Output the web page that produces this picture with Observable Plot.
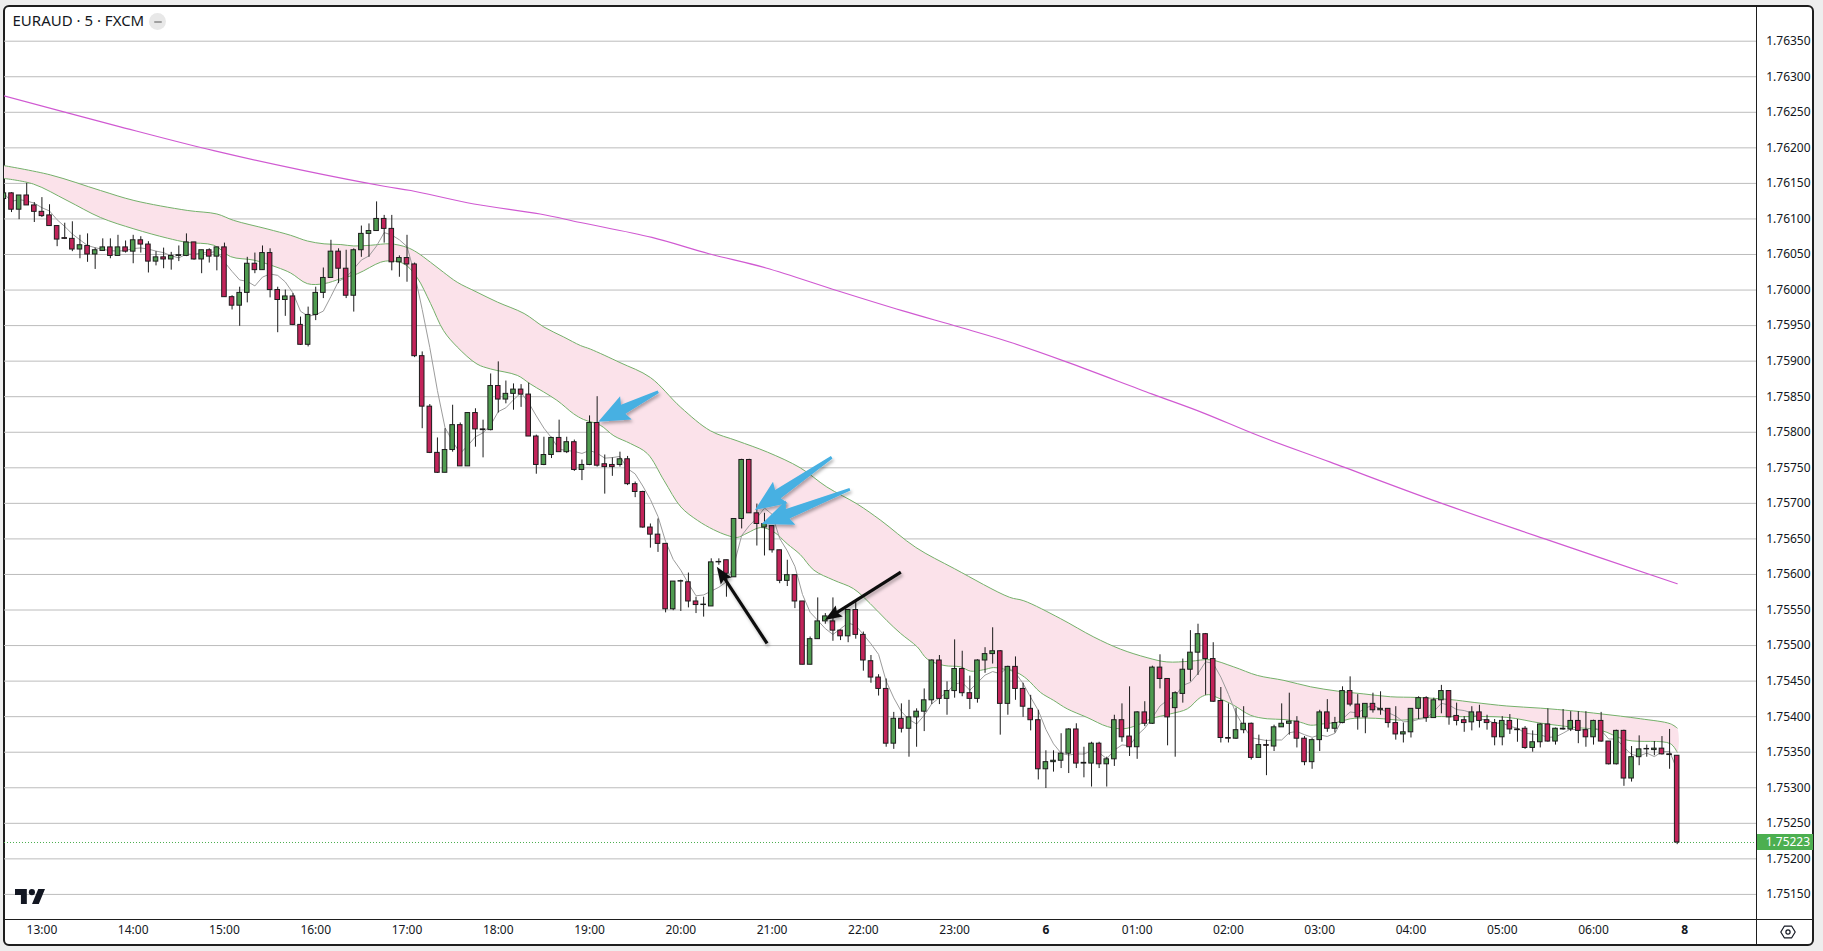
<!DOCTYPE html>
<html>
<head>
<meta charset="utf-8">
<script src="https://cdn.jsdelivr.net/npm/d3@7"></script>
<script src="https://cdn.jsdelivr.net/npm/@observablehq/plot@0.6"></script>
<style>
  html, body { margin: 0; padding: 0; width: 1823px; height: 951px; overflow: hidden; background: #eeeeee; }
  #frame { position: absolute; left: 3px; top: 5px; width: 1811px; height: 941px; box-sizing: border-box;
           border: 2px solid #1e1e1e; border-radius: 6px; background: #ffffff; }
  #chart { position: absolute; left: 0; top: 0; }
  .sep { position: absolute; background: #1e1e1e; }
  #title { position: absolute; left: 12.5px; top: 13.4px; font: 15px/15px "Noto Sans", "Open Sans", sans-serif; color: #131722; white-space: nowrap; }
  #minus { position: absolute; left: 149px; top: 13px; width: 17px; height: 17px; border-radius: 50%; background: #e8e8e8; }
  #minus::after { content: ""; position: absolute; left: 4.5px; top: 7.5px; width: 8px; height: 2px; background: #a0a0a0; border-radius: 1px; }
  #logo { position: absolute; left: 15px; top: 889px; }
  #gear { position: absolute; left: 1780px; top: 925px; }
  #lastLabel { position: absolute; left: 1757px; width: 56px; height: 16px; background: #4caf50; color: #ffffff;
               font: 12px/16px "Noto Sans", "Open Sans", sans-serif; box-sizing: border-box; padding-left: 8.7px; }
</style>
</head>
<body>
<div id="frame"></div>
<div id="chart"></div>
<div class="sep" style="left:1756.2px; top:5px; width:1px; height:941px;"></div>
<div class="sep" style="left:3px; top:918.8px; width:1811px; height:1px;"></div>
<div id="title">EURAUD · 5 · FXCM</div>
<div id="minus"></div>
<svg id="logo" width="30" height="15.4" viewBox="0 4 35.5 18"><path fill="#131722" d="M14 22H7V11H0V4h14v18zM28 22h-8l7.5-18h8L28 22z"/><circle fill="#131722" cx="20" cy="7.6" r="3.6"/></svg>
<svg id="gear" width="16" height="14" viewBox="0 0 16 14"><path d="M4.3 1.2h7.4L15.2 7l-3.5 5.8H4.3L0.8 7z" fill="none" stroke="#131722" stroke-width="1.2" stroke-linejoin="round"/><circle cx="8" cy="7" r="2.1" fill="none" stroke="#131722" stroke-width="1.2"/></svg>
<script>
// ---------------- data (EURAUD 5-minute candles) ----------------
// candle index -1 is the partly hidden bar at the left edge; index 4 = 13:00
const open = [
  1.76128, 1.76136, 1.76113, 1.76133, 1.76119, 1.76110, 1.76105, 1.76090, 1.76073, 1.76072,
  1.76057, 1.76062, 1.76050, 1.76055, 1.76060, 1.76048, 1.76060, 1.76054, 1.76070, 1.76064,
  1.76040, 1.76046, 1.76043, 1.76048, 1.76048, 1.76067, 1.76043, 1.76056, 1.76047, 1.76060,
  1.75990, 1.75978, 1.75996, 1.76037, 1.76028, 1.76052, 1.76000, 1.75986, 1.75991, 1.75951,
  1.75923, 1.75965, 1.75996, 1.76017, 1.76054, 1.76030, 1.75992, 1.76056, 1.76079, 1.76083,
  1.76100, 1.76086, 1.76039, 1.76045, 1.76036, 1.75907, 1.75836, 1.75771, 1.75743, 1.75775,
  1.75810, 1.75752, 1.75827, 1.75804, 1.75803, 1.75865, 1.75846, 1.75854, 1.75860, 1.75853,
  1.75794, 1.75754, 1.75768, 1.75792, 1.75772, 1.75786, 1.75747, 1.75754, 1.75813, 1.75755,
  1.75754, 1.75754, 1.75762, 1.75727, 1.75716, 1.75666, 1.75656, 1.75643, 1.75551, 1.75590,
  1.75589, 1.75562, 1.75557, 1.75555, 1.75617, 1.75620, 1.75596, 1.75678, 1.75761, 1.75686,
  1.75666, 1.75668, 1.75634, 1.75591, 1.75599, 1.75562, 1.75473, 1.75509, 1.75534, 1.75534,
  1.75521, 1.75513, 1.75550, 1.75515, 1.75478, 1.75455, 1.75439, 1.75362, 1.75397, 1.75383,
  1.75399, 1.75407, 1.75423, 1.75479, 1.75425, 1.75436, 1.75467, 1.75433, 1.75425, 1.75479,
  1.75488, 1.75492, 1.75418, 1.75470, 1.75439, 1.75411, 1.75395, 1.75326, 1.75336, 1.75338,
  1.75348, 1.75382, 1.75334, 1.75334, 1.75362, 1.75333, 1.75340, 1.75395, 1.75372, 1.75357,
  1.75406, 1.75390, 1.75469, 1.75453, 1.75412, 1.75432, 1.75466, 1.75490, 1.75516, 1.75481,
  1.75422, 1.75370, 1.75369, 1.75381, 1.75390, 1.75342, 1.75360, 1.75358, 1.75385, 1.75390,
  1.75393, 1.75369, 1.75336, 1.75367, 1.75406, 1.75383, 1.75391, 1.75436, 1.75417, 1.75399,
  1.75418, 1.75409, 1.75411, 1.75391, 1.75375, 1.75378, 1.75411, 1.75426, 1.75398, 1.75423,
  1.75436, 1.75401, 1.75395, 1.75392, 1.75406, 1.75395, 1.75391, 1.75371, 1.75394, 1.75382,
  1.75383, 1.75356, 1.75364, 1.75389, 1.75365, 1.75382, 1.75382, 1.75394, 1.75381, 1.75371,
  1.75394, 1.75365, 1.75333, 1.75380, 1.75313, 1.75343, 1.75354, 1.75353, 1.75355, 1.75347,
  1.75345
];
const high = [
  1.76140, 1.76137, 1.76133, 1.76150, 1.76123, 1.76130, 1.76120, 1.76090, 1.76094, 1.76096,
  1.76077, 1.76079, 1.76059, 1.76072, 1.76072, 1.76077, 1.76069, 1.76077, 1.76075, 1.76068,
  1.76054, 1.76059, 1.76053, 1.76062, 1.76079, 1.76067, 1.76056, 1.76058, 1.76060, 1.76066,
  1.75992, 1.76004, 1.76046, 1.76052, 1.76062, 1.76058, 1.76004, 1.76000, 1.75995, 1.75962,
  1.75976, 1.76004, 1.76031, 1.76070, 1.76058, 1.76056, 1.76058, 1.76090, 1.76093, 1.76124,
  1.76105, 1.76105, 1.76048, 1.76077, 1.76038, 1.75913, 1.75839, 1.75792, 1.75805, 1.75838,
  1.75813, 1.75827, 1.75833, 1.75817, 1.75882, 1.75899, 1.75872, 1.75868, 1.75867, 1.75869,
  1.75796, 1.75793, 1.75793, 1.75817, 1.75793, 1.75789, 1.75761, 1.75823, 1.75850, 1.75768,
  1.75764, 1.75772, 1.75766, 1.75730, 1.75717, 1.75671, 1.75678, 1.75643, 1.75590, 1.75592,
  1.75602, 1.75568, 1.75568, 1.75622, 1.75622, 1.75620, 1.75678, 1.75762, 1.75762, 1.75699,
  1.75686, 1.75668, 1.75634, 1.75620, 1.75599, 1.75562, 1.75512, 1.75567, 1.75545, 1.75567,
  1.75522, 1.75550, 1.75561, 1.75519, 1.75486, 1.75459, 1.75453, 1.75406, 1.75418, 1.75423,
  1.75411, 1.75439, 1.75480, 1.75486, 1.75449, 1.75508, 1.75492, 1.75457, 1.75480, 1.75497,
  1.75525, 1.75493, 1.75471, 1.75484, 1.75447, 1.75430, 1.75409, 1.75352, 1.75352, 1.75376,
  1.75383, 1.75390, 1.75357, 1.75364, 1.75364, 1.75343, 1.75402, 1.75418, 1.75442, 1.75407,
  1.75421, 1.75471, 1.75487, 1.75453, 1.75435, 1.75481, 1.75521, 1.75530, 1.75517, 1.75504,
  1.75441, 1.75418, 1.75412, 1.75414, 1.75391, 1.75374, 1.75367, 1.75388, 1.75418, 1.75433,
  1.75400, 1.75372, 1.75369, 1.75409, 1.75424, 1.75399, 1.75442, 1.75456, 1.75431, 1.75418,
  1.75433, 1.75435, 1.75411, 1.75414, 1.75391, 1.75411, 1.75428, 1.75428, 1.75426, 1.75444,
  1.75436, 1.75419, 1.75400, 1.75414, 1.75416, 1.75402, 1.75396, 1.75400, 1.75403, 1.75396,
  1.75386, 1.75380, 1.75390, 1.75411, 1.75384, 1.75410, 1.75407, 1.75407, 1.75407, 1.75395,
  1.75406, 1.75365, 1.75381, 1.75381, 1.75358, 1.75373, 1.75360, 1.75365, 1.75372, 1.75382,
  1.75345
];
const low = [
  1.76120, 1.76109, 1.76099, 1.76119, 1.76095, 1.76102, 1.76090, 1.76061, 1.76071, 1.76054,
  1.76044, 1.76039, 1.76029, 1.76055, 1.76044, 1.76048, 1.76052, 1.76037, 1.76052, 1.76024,
  1.76034, 1.76030, 1.76028, 1.76040, 1.76047, 1.76042, 1.76023, 1.76038, 1.76027, 1.75990,
  1.75972, 1.75949, 1.75982, 1.76023, 1.76028, 1.75989, 1.75940, 1.75963, 1.75950, 1.75922,
  1.75920, 1.75957, 1.75988, 1.76017, 1.76009, 1.75988, 1.75969, 1.76046, 1.76046, 1.76083,
  1.76066, 1.76027, 1.76018, 1.76011, 1.75905, 1.75805, 1.75770, 1.75742, 1.75743, 1.75772,
  1.75752, 1.75752, 1.75779, 1.75764, 1.75802, 1.75827, 1.75840, 1.75831, 1.75835, 1.75794,
  1.75741, 1.75753, 1.75763, 1.75772, 1.75770, 1.75745, 1.75732, 1.75753, 1.75751, 1.75713,
  1.75738, 1.75751, 1.75725, 1.75708, 1.75665, 1.75637, 1.75631, 1.75546, 1.75549, 1.75548,
  1.75553, 1.75545, 1.75540, 1.75555, 1.75613, 1.75568, 1.75596, 1.75664, 1.75686, 1.75640,
  1.75626, 1.75630, 1.75587, 1.75583, 1.75552, 1.75473, 1.75473, 1.75509, 1.75530, 1.75506,
  1.75507, 1.75504, 1.75509, 1.75464, 1.75447, 1.75429, 1.75357, 1.75354, 1.75377, 1.75343,
  1.75357, 1.75379, 1.75417, 1.75417, 1.75402, 1.75426, 1.75428, 1.75410, 1.75419, 1.75461,
  1.75474, 1.75374, 1.75402, 1.75423, 1.75399, 1.75380, 1.75311, 1.75299, 1.75322, 1.75327,
  1.75320, 1.75327, 1.75314, 1.75301, 1.75327, 1.75301, 1.75330, 1.75364, 1.75344, 1.75340,
  1.75386, 1.75389, 1.75439, 1.75359, 1.75343, 1.75419, 1.75449, 1.75458, 1.75430, 1.75420,
  1.75363, 1.75363, 1.75368, 1.75376, 1.75339, 1.75342, 1.75317, 1.75351, 1.75385, 1.75374,
  1.75356, 1.75331, 1.75326, 1.75351, 1.75378, 1.75377, 1.75390, 1.75414, 1.75381, 1.75376,
  1.75405, 1.75402, 1.75384, 1.75367, 1.75363, 1.75370, 1.75396, 1.75392, 1.75398, 1.75404,
  1.75388, 1.75387, 1.75378, 1.75380, 1.75384, 1.75381, 1.75359, 1.75359, 1.75375, 1.75364,
  1.75354, 1.75350, 1.75356, 1.75364, 1.75360, 1.75381, 1.75379, 1.75362, 1.75357, 1.75360,
  1.75364, 1.75332, 1.75332, 1.75302, 1.75308, 1.75331, 1.75343, 1.75345, 1.75346, 1.75326,
  1.75220
];
const close = [
  1.76136, 1.76113, 1.76133, 1.76119, 1.76110, 1.76104, 1.76090, 1.76071, 1.76072, 1.76057,
  1.76063, 1.76050, 1.76056, 1.76060, 1.76048, 1.76060, 1.76054, 1.76070, 1.76064, 1.76040,
  1.76046, 1.76043, 1.76048, 1.76049, 1.76067, 1.76043, 1.76056, 1.76047, 1.76060, 1.75990,
  1.75978, 1.75996, 1.76037, 1.76028, 1.76052, 1.76000, 1.75986, 1.75991, 1.75951, 1.75923,
  1.75965, 1.75996, 1.76017, 1.76054, 1.76030, 1.75992, 1.76056, 1.76079, 1.76083, 1.76100,
  1.76086, 1.76039, 1.76045, 1.76036, 1.75907, 1.75836, 1.75771, 1.75743, 1.75775, 1.75810,
  1.75752, 1.75827, 1.75804, 1.75803, 1.75865, 1.75846, 1.75854, 1.75860, 1.75853, 1.75794,
  1.75754, 1.75768, 1.75792, 1.75772, 1.75786, 1.75747, 1.75754, 1.75813, 1.75753, 1.75751,
  1.75751, 1.75762, 1.75727, 1.75716, 1.75666, 1.75656, 1.75643, 1.75551, 1.75590, 1.75590,
  1.75562, 1.75557, 1.75557, 1.75617, 1.75617, 1.75601, 1.75678, 1.75761, 1.75686, 1.75671,
  1.75671, 1.75634, 1.75591, 1.75599, 1.75562, 1.75473, 1.75509, 1.75534, 1.75541, 1.75521,
  1.75513, 1.75550, 1.75515, 1.75479, 1.75455, 1.75439, 1.75362, 1.75397, 1.75383, 1.75399,
  1.75407, 1.75423, 1.75479, 1.75425, 1.75436, 1.75467, 1.75433, 1.75425, 1.75479, 1.75488,
  1.75492, 1.75418, 1.75470, 1.75439, 1.75414, 1.75395, 1.75326, 1.75336, 1.75338, 1.75348,
  1.75382, 1.75334, 1.75335, 1.75362, 1.75333, 1.75340, 1.75395, 1.75371, 1.75357, 1.75406,
  1.75390, 1.75469, 1.75453, 1.75399, 1.75433, 1.75466, 1.75490, 1.75516, 1.75481, 1.75421,
  1.75370, 1.75369, 1.75381, 1.75390, 1.75342, 1.75360, 1.75359, 1.75385, 1.75390, 1.75393,
  1.75369, 1.75336, 1.75367, 1.75406, 1.75383, 1.75391, 1.75436, 1.75417, 1.75399, 1.75418,
  1.75409, 1.75411, 1.75391, 1.75375, 1.75378, 1.75411, 1.75426, 1.75398, 1.75423, 1.75436,
  1.75399, 1.75394, 1.75391, 1.75406, 1.75394, 1.75391, 1.75371, 1.75394, 1.75382, 1.75381,
  1.75356, 1.75364, 1.75389, 1.75365, 1.75383, 1.75383, 1.75394, 1.75380, 1.75371, 1.75394,
  1.75365, 1.75333, 1.75380, 1.75313, 1.75343, 1.75354, 1.75354, 1.75355, 1.75347, 1.75346,
  1.75223
];
const firstIndex = -1;

// upper and lower lines of the shaded moving-average band (bar index, price)
const bandUpperIdx = [-1, 5.1, 11.7, 16.1, 23.1, 27.0, 29.2, 33.6, 36.7, 38.9, 41.1, 43.3, 45.0, 47.2, 49.8, 52.0, 53.3, 55.1, 56.8, 58.6,
  61.2, 63.9, 67.4, 70.0, 72.6, 74.8, 76.1, 80.0, 84.0, 88.0, 91.9, 95.4, 99.4, 103.7, 107.2, 111.2, 114.3, 118.9, 124.0, 131.2,
  133.1, 137.9, 142.3, 145.8, 149.3, 151.9, 155.0, 157.6, 160.7, 163.8, 167.3, 170.8, 174.3, 177.8, 181.3, 184.8, 189.2, 192.3, 196.6, 201.0,
  205.4, 208.9, 214.2, 218.1, 219.0];
const bandUpperVal = [1.76175, 1.76162, 1.76140, 1.76126, 1.76112, 1.76107, 1.76098, 1.76086, 1.76077, 1.76069, 1.76065, 1.76064, 1.76062, 1.76063, 1.76065, 1.76060, 1.76053, 1.76039, 1.76025, 1.76011,
  1.75997, 1.75983, 1.75967, 1.75948, 1.75934, 1.75922, 1.75917, 1.75898, 1.75877, 1.75835, 1.75802, 1.75788, 1.75772, 1.75750, 1.75723, 1.75699, 1.75676, 1.75638, 1.75608, 1.75568,
  1.75563, 1.75538, 1.75512, 1.75495, 1.75483, 1.75477, 1.75478, 1.75480, 1.75470, 1.75458, 1.75451, 1.75442, 1.75436, 1.75432, 1.75428, 1.75427, 1.75424, 1.75420, 1.75415, 1.75412,
  1.75408, 1.75404, 1.75397, 1.75390, 1.75384];
const bandLowerIdx = [-1, 2.9, 7.3, 11.7, 16.1, 20.5, 23.1, 26.6, 28.8, 31.9,
  34.9, 36.7, 38.9, 41.1, 43.3, 45.5, 48.5, 49.8, 51.6, 53.3,
  55.1, 56.8, 58.6, 61.2, 63.0, 66.5, 68.2, 71.7, 73.9, 75.2,
  77.4, 79.2, 81.4, 83.6, 85.8, 88.0, 90.2, 92.3, 94.1, 95.4,
  96.7, 98.5, 100.2, 102.0, 103.7, 105.5, 108.1, 110.7, 112.9, 115.1,
  116.9, 119.1, 120.4, 122.6, 124.8, 126.1, 127.8, 129.1, 130.4, 132.2,
  133.5, 135.3, 137.0, 138.8, 141.4, 144.1, 146.2, 148.0, 149.8, 152.4,
  154.6, 156.3, 157.4, 158.5, 160.7, 162.9, 165.1, 167.3, 169.5, 170.8,
  172.5, 174.3, 176.0, 178.3, 180.4, 182.6, 184.8, 187.0, 189.2, 196.6,
  201.0, 205.4, 208.9, 212.4, 218.1, 219.0];
const bandLowerVal = [1.76157, 1.76149, 1.76126, 1.76102, 1.76086, 1.76073, 1.76067, 1.76063, 1.76047, 1.76042,
  1.76032, 1.76024, 1.76009, 1.76009, 1.76016, 1.76023, 1.76039, 1.76041, 1.76037, 1.76018,
  1.75981, 1.75943, 1.75920, 1.75896, 1.75889, 1.75880, 1.75868, 1.75845, 1.75826, 1.75818,
  1.75810, 1.75795, 1.75784, 1.75770, 1.75732, 1.75695, 1.75676, 1.75663, 1.75655, 1.75652,
  1.75658, 1.75666, 1.75660, 1.75643, 1.75628, 1.75606, 1.75592, 1.75580, 1.75559, 1.75535,
  1.75517, 1.75498, 1.75481, 1.75472, 1.75470, 1.75464, 1.75466, 1.75469, 1.75467, 1.75462,
  1.75453, 1.75434, 1.75423, 1.75411, 1.75399, 1.75386, 1.75383, 1.75388, 1.75397, 1.75404,
  1.75411, 1.75427, 1.75431, 1.75427, 1.75416, 1.75402, 1.75397, 1.75396, 1.75392, 1.75388,
  1.75390, 1.75392, 1.75397, 1.75398, 1.75397, 1.75395, 1.75397, 1.75400, 1.75400, 1.75399,
  1.75391, 1.75385, 1.75381, 1.75367, 1.75362, 1.75350];

// slow moving average (magenta)
const slowMaIdx = [-1, 13.8, 26.6, 38.0, 49.0, 52.5, 60.8, 69.5, 74.8, 84.2, 91.7, 99.2, 108.6, 117.1, 124.6, 131.2, 138.7, 149.9, 156.5, 164.0, 173.4, 187.5, 201.6, 219.0];
const slowMaVal = [1.76273, 1.76231, 1.76196, 1.76169, 1.76146, 1.76140, 1.76121, 1.76107, 1.76095, 1.76074, 1.76051, 1.76031, 1.75999, 1.75971, 1.75948, 1.75927, 1.75899, 1.75854, 1.75828, 1.75795, 1.75758, 1.75702, 1.75650, 1.75587];

// fast moving average period (grey line)
const fastMaPeriod = 5;

// price grid and axis labels
const gridPrices = d3.range(0, 25).map(k => +(1.7515 + k * 0.0005).toFixed(4));
const timeTickIdx = [4, 16, 28, 40, 52, 64, 76, 88, 100, 112, 124, 136, 148, 160, 172, 184, 196, 208, 220];
const timeTickLabels = ["13:00", "14:00", "15:00", "16:00", "17:00", "18:00", "19:00", "20:00", "21:00", "22:00", "23:00", "6", "01:00", "02:00", "03:00", "04:00", "05:00", "06:00", "8"];
const dayLabels = ["6", "8"];

// hand-drawn annotation arrows: [bar index, price] from tail to tip
const blueArrowFrom = [[85.1, 1.758563], [107.9, 1.757641], [110.3, 1.757191]];
const blueArrowTo   = [[77.2, 1.758141], [97.8, 1.756899], [98.7, 1.756703]];
const blackArrowFrom = [[99.4, 1.755025], [117.0, 1.756027]];
const blackArrowTo   = [[92.8, 1.756102], [107.0, 1.755352]];

// ---------------- tables built from the arrays ----------------
const candles = open.map((o, k) => ({i: k + firstIndex, open: o, high: high[k], low: low[k], close: close[k]}));
const upCandles = candles.filter(d => d.close >= d.open);
const downCandles = candles.filter(d => d.close < d.open);
const upper = bandUpperIdx.map((i, k) => ({i, v: bandUpperVal[k]}));
const lower = bandLowerIdx.map((i, k) => ({i, v: bandLowerVal[k]}));
const bandPolygon = upper.concat(lower.slice().reverse());
const slowMa = slowMaIdx.map((i, k) => ({i, v: slowMaVal[k]}));
const timeTicks = timeTickIdx.map((i, k) => ({i, label: timeTickLabels[k]}));
const lastPrice = close[close.length - 1];

const RED = "#c2245a", GREEN = "#4f9b50", OUTLINE = "#1c1c1c";
const HALF = 0.3;
const bodyTop = d => d.close === d.open ? d.close + 0.000006 : d.close;

function arrowPath(tx, ty, px, py, o) {
  const dx = px - tx, dy = py - ty, L = Math.hypot(dx, dy);
  const ux = dx / L, uy = dy / L, nx = -uy, ny = ux;
  const bx = px - ux * o.head, by = py - uy * o.head;
  const P = [
    [tx + nx * o.tail, ty + ny * o.tail],
    [bx + nx * o.neck, by + ny * o.neck],
    [bx - ux * o.back + nx * o.barb, by - uy * o.back + ny * o.barb],
    [px, py],
    [bx - ux * o.back - nx * o.barb, by - uy * o.back - ny * o.barb],
    [bx - nx * o.neck, by - ny * o.neck],
    [tx - nx * o.tail, ty - ny * o.tail]
  ];
  return "M" + P.map(p => p[0].toFixed(1) + "," + p[1].toFixed(1)).join("L") + "Z";
}
function arrowsMark(from, to, o) {
  return function (index, scales) {
    const s = scales && typeof scales.x === "function" ? scales : index;
    const g = d3.create("svg:g");
    const fid = "shadow-" + o.id;
    const f = g.append("defs").append("filter").attr("id", fid)
      .attr("x", "-50%").attr("y", "-50%").attr("width", "200%").attr("height", "200%");
    f.append("feDropShadow").attr("dx", 1.5).attr("dy", 2.5).attr("stdDeviation", 1.6)
      .attr("flood-color", "#000").attr("flood-opacity", 0.3);
    from.forEach((a, k) => {
      const b = to[k];
      g.append("path")
        .attr("d", arrowPath(s.x(a[0]), s.y(a[1]), s.x(b[0]), s.y(b[1]), o))
        .attr("fill", o.color).attr("filter", `url(#${fid})`);
    });
    return g.node();
  };
}

function baseMarks() {
  return [
    Plot.ruleY(gridPrices, {stroke: "#bcbcbc", strokeWidth: 1}),
    Plot.line(bandPolygon, {x: "i", y: "v", fill: "#fbe2ea", stroke: "none", curve: "catmull-rom", clip: true}),
    Plot.line(slowMa, {x: "i", y: "v", stroke: "#d05ad2", strokeWidth: 1.2, curve: "catmull-rom", clip: true}),
    Plot.line(upper, {x: "i", y: "v", stroke: "#74b06a", strokeWidth: 1, curve: "catmull-rom", clip: true}),
    Plot.line(lower, {x: "i", y: "v", stroke: "#74b06a", strokeWidth: 1, curve: "catmull-rom", clip: true}),
    Plot.line(candles, Plot.windowY({k: fastMaPeriod, anchor: "end", reduce: "mean"},
      {x: "i", y: "close", stroke: "#9c9c9c", strokeWidth: 1, clip: true})),
    Plot.ruleY([lastPrice], {stroke: "#4caf50", strokeWidth: 1, strokeDasharray: "1,2"}),
    Plot.ruleX(candles, {x: "i", y1: "low", y2: "high", stroke: OUTLINE, strokeWidth: 1, clip: true}),
    Plot.rect(upCandles, {x1: d => d.i - HALF, x2: d => d.i + HALF, y1: "open", y2: bodyTop,
      fill: GREEN, stroke: OUTLINE, strokeWidth: 1, clip: true}),
    Plot.rect(downCandles, {x1: d => d.i - HALF, x2: d => d.i + HALF, y1: "open", y2: bodyTop,
      fill: RED, stroke: OUTLINE, strokeWidth: 1, clip: true}),
    Plot.text(gridPrices, {y: d => d, text: d => d.toFixed(5), frameAnchor: "right", dx: 9,
      textAnchor: "start", fill: "#131722", fontSize: 12}),
    Plot.text(timeTicks.filter(d => !dayLabels.includes(d.label)), {x: "i", text: "label", frameAnchor: "bottom",
      dy: 13.7, fill: "#131722", fontSize: 12}),
    Plot.text(timeTicks.filter(d => dayLabels.includes(d.label)), {x: "i", text: "label", frameAnchor: "bottom",
      dy: 13.7, fill: "#131722", fontSize: 12, fontWeight: 700})
  ];
}
const arrowMarks = [
  arrowsMark(blueArrowFrom, blueArrowTo, {id: "blue", color: "#47b0e2", head: 28, neck: 5, barb: 13, back: 3, tail: 1.4}),
  arrowsMark(blackArrowFrom, blackArrowTo, {id: "black", color: "#111111", head: 15, neck: 1.6, barb: 6.5, back: 2, tail: 1.6})
];

function build(withArrows) {
  return Plot.plot({
    width: 1823, height: 951,
    marginLeft: 4, marginRight: 66.3, marginTop: 5, marginBottom: 31.7,
    x: {type: "linear", domain: [-0.92, 229.52], axis: null},
    y: {type: "linear", domain: [1.751143, 1.764002], axis: null},
    style: {background: "transparent", fontFamily: "'Noto Sans', 'Open Sans', sans-serif", fontSize: "12px", color: "#131722", overflow: "visible"},
    marks: withArrows ? baseMarks().concat(arrowMarks) : baseMarks()
  });
}
let chart;
try { chart = build(true); } catch (e) { console.error(e); chart = build(false); }
document.getElementById("chart").appendChild(chart);

// last-price badge on the price axis, placed with the chart's own y scale
const yPix = chart.scale("y").apply(lastPrice);
const badge = document.createElement("div");
badge.id = "lastLabel";
badge.textContent = lastPrice.toFixed(5);
badge.style.top = (yPix - 8) + "px";
document.body.appendChild(badge);
</script>
</body>
</html>
